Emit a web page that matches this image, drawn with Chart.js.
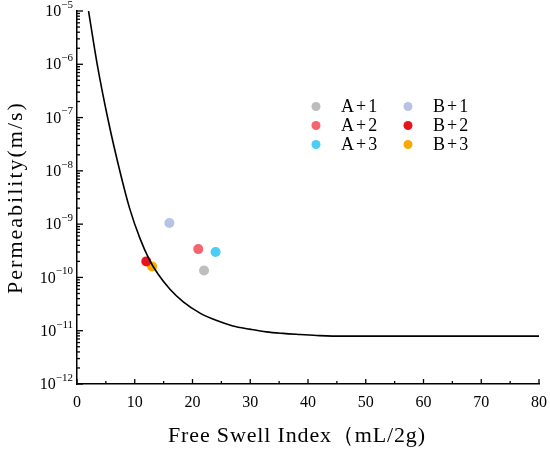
<!DOCTYPE html>
<html lang="en">
<head>
    <meta charset="UTF-8">
    <title>Permeability vs Free Swell Index</title>
    <script src="https://cdn.jsdelivr.net/npm/chart.js"></script>
    <style>
        body {
            margin: 0;
            background-color: white;
        }
        canvas {
            display: block;
        }
    </style>
</head>
<body>

    <canvas id="swellChart" width="550" height="455"></canvas>

    <script>
        // fitted curve
        const curveSwell = [2, 3.5, 5.4, 7.3, 9.1, 10.9, 12.5, 14, 16.1, 18.4, 21.3, 24.2, 27, 29.9, 32.8, 35.7, 38.6, 42, 46, 80];
        const curvePerm = [1e-5, 1e-6, 8.9e-8, 1.12e-8, 2.0e-9, 5.4e-10, 2.19e-10, 1.17e-10, 6.0e-11, 3.47e-11, 2.14e-11, 1.55e-11,
            1.23e-11, 1.07e-11, 9.5e-12, 8.9e-12, 8.5e-12, 8.1e-12, 7.9e-12, 7.9e-12];

        // measured samples
        const sampleNames = ['A+1', 'A+2', 'A+3', 'B+1', 'B+2', 'B+3'];
        const sampleSwell = [22, 21, 24, 16, 12, 13];
        const samplePerm = [1.35e-10, 3.4e-10, 3.0e-10, 1.05e-9, 2.0e-10, 1.6e-10];
        const sampleColors = ['#bdbdbd', '#f6646e', '#4ccdf4', '#b5c3e4', '#e8131d', '#f7ab04'];

        const xTickValues = [0, 10, 20, 30, 40, 50, 60, 70, 80];
        const yExponents = [-12, -11, -10, -9, -8, -7, -6, -5];

        const serif = '"Liberation Serif", "DejaVu Serif", serif';

        const datasets = [{
            label: 'curve',
            data: curveSwell.map((x, i) => ({ x: x, y: curvePerm[i] })),
            showLine: true,
            borderColor: '#000',
            borderWidth: 1.6,
            pointRadius: 0,
            cubicInterpolationMode: 'monotone',
            fill: false
        }];
        sampleNames.forEach((name, i) => {
            datasets.push({
                label: name,
                data: [{ x: sampleSwell[i], y: samplePerm[i] }],
                showLine: false,
                pointRadius: 5,
                pointBackgroundColor: sampleColors[i],
                pointBorderWidth: 0,
                borderColor: sampleColors[i]
            });
        });

        // ticks pointing inward, superscript labels, legend, axis titles
        const decorPlugin = {
            id: 'decor',
            afterDraw(chart) {
                const ctx = chart.ctx;
                const xs = chart.scales.x;
                const ys = chart.scales.y;
                const area = chart.chartArea;
                ctx.save();
                ctx.strokeStyle = '#000';
                ctx.lineWidth = 1.3;

                // x ticks (major every 10, minor every 5)
                for (let v = 0; v <= 80; v += 5) {
                    const px = xs.getPixelForValue(v);
                    const len = v % 10 === 0 ? 5 : 3;
                    ctx.beginPath();
                    ctx.moveTo(px, area.bottom);
                    ctx.lineTo(px, area.bottom - len);
                    ctx.stroke();
                }

                // y ticks (log decades + minors)
                yExponents.forEach(e => {
                    for (let m = 1; m <= 9; m++) {
                        const v = m * Math.pow(10, e);
                        if (v > 1e-5 * 1.0001) break;
                        const py = ys.getPixelForValue(v);
                        const len = m === 1 ? 6 : 3;
                        ctx.beginPath();
                        ctx.moveTo(area.left, py);
                        ctx.lineTo(area.left + len, py);
                        ctx.stroke();
                    }
                });

                // y labels 10^n
                ctx.fillStyle = '#000';
                ctx.textBaseline = 'middle';
                yExponents.forEach(e => {
                    const py = ys.getPixelForValue(Math.pow(10, e));
                    const exp = '\u2212' + Math.abs(e);
                    ctx.font = '11px ' + serif;
                    const expW = ctx.measureText(exp).width;
                    ctx.textAlign = 'left';
                    ctx.fillText(exp, area.left - 4 - expW, py - 6);
                    ctx.font = '16px ' + serif;
                    ctx.textAlign = 'right';
                    ctx.fillText('10', area.left - 4 - expW, py + 1);
                });

                // axis titles
                ctx.textBaseline = 'alphabetic';
                ctx.textAlign = 'left';
                ctx.font = '22px ' + serif;
                ctx.letterSpacing = '0.85px';
                ctx.fillText('Free Swell Index\uff08mL/2g)', 168, 442);
                ctx.textAlign = 'center';
                ctx.letterSpacing = '2px';
                ctx.save();
                ctx.translate(22, (area.top + area.bottom) / 2);
                ctx.rotate(-Math.PI / 2);
                ctx.fillText('Permeability(m/s)', 0, 0);
                ctx.restore();

                // legend, two columns of three
                ctx.textBaseline = 'middle';
                ctx.font = '18px ' + serif;
                ctx.letterSpacing = '2px';
                ctx.textAlign = 'left';
                sampleNames.forEach((name, i) => {
                    const col = Math.floor(i / 3);
                    const row = i % 3;
                    const mx = 316 + col * 92;
                    const my = 106.5 + row * 19;
                    ctx.beginPath();
                    ctx.fillStyle = sampleColors[i];
                    ctx.arc(mx, my, 4.5, 0, Math.PI * 2);
                    ctx.fill();
                    ctx.fillStyle = '#000';
                    ctx.fillText(name, mx + 25, my + 1);
                });
                ctx.letterSpacing = '0px';

                ctx.restore();
            }
        };

        const swellChart = new Chart(document.getElementById('swellChart').getContext('2d'), {
            type: 'scatter',
            data: { datasets: datasets },
            options: {
                responsive: false,
                animation: false,
                devicePixelRatio: 1,
                layout: { padding: { top: 11, right: 11, left: 0, bottom: 0 } },
                plugins: {
                    legend: { display: false },
                    tooltip: { enabled: false }
                },
                scales: {
                    x: {
                        type: 'linear',
                        min: 0,
                        max: 80,
                        afterBuildTicks: scale => {
                            scale.ticks = xTickValues.map(v => ({ value: v }));
                        },
                        afterFit: scale => {
                            scale.height = 71;
                            scale.paddingLeft = 0;
                            scale.paddingRight = 0;
                        },
                        grid: { display: false, drawTicks: false },
                        border: { display: true, color: '#000', width: 1.5 },
                        ticks: {
                            color: '#000',
                            padding: 9,
                            maxRotation: 0,
                            font: { family: serif, size: 16 }
                        }
                    },
                    y: {
                        type: 'logarithmic',
                        min: 1e-12,
                        max: 1e-5,
                        afterFit: scale => {
                            scale.width = 77;
                            scale.paddingTop = 0;
                            scale.paddingBottom = 0;
                        },
                        grid: { display: false, drawTicks: false },
                        border: { display: true, color: '#000', width: 1.5 },
                        ticks: { display: false }
                    }
                }
            },
            plugins: [decorPlugin]
        });
    </script>

</body>
</html>
